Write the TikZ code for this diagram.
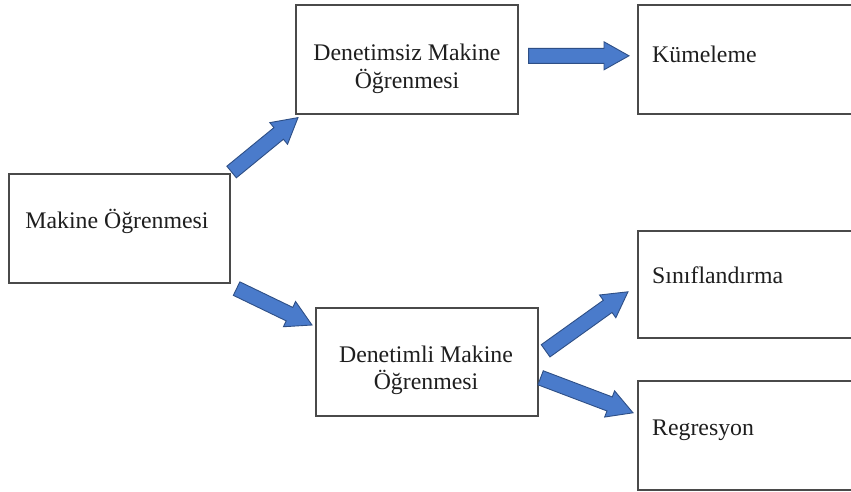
\documentclass[tikz,border=0pt]{standalone}
\usepackage{fontspec}
\setmainfont{Liberation Serif}
\usetikzlibrary{calc}

\definecolor{boxline}{HTML}{4A4A4A}
\definecolor{arrowfill}{HTML}{4A7BCB}
\definecolor{arrowedge}{HTML}{2E4F86}
\definecolor{textcol}{HTML}{1E1E1E}

\tikzset{
  box/.style={draw=boxline, line width=1.6pt, fill=white, inner sep=0pt},
  lbl/.style={anchor=base, inner sep=0pt, text=textcol,
    font=\fontsize{23.8}{28}\selectfont},
  lbll/.style={lbl, anchor=base west},
  blockarrow/.style={draw=arrowedge, fill=arrowfill, line width=0.9pt, line join=miter}
}

% block arrow from tail (#2) to tip (#3); #1 names its head base
\newcommand\blockarr[3]{%
  \coordinate (#1) at ($(#3)!25pt!(#2)$);
  \draw[blockarrow]
    ($(#2)!7.5pt!90:(#3)$) -- ($(#1)!7.5pt!90:(#3)$) -- ($(#1)!14pt!90:(#3)$)
    -- (#3) -- ($(#1)!14pt!-90:(#3)$) -- ($(#1)!7.5pt!-90:(#3)$)
    -- ($(#2)!7.5pt!-90:(#3)$) -- cycle;
}

\begin{document}
\begin{tikzpicture}[x=1pt, y=-1pt]
  \clip (0,0) rectangle (851,491);
  \fill[white] (0,0) rectangle (851,491);

  % boxes (corner to corner)
  \node[box, fit/.style={}, minimum width=221pt, minimum height=109pt, anchor=north west] (mo)  at (8,173) {};
  \node[box, minimum width=222pt, minimum height=109pt, anchor=north west] (den) at (295,4) {};
  \node[box, minimum width=222pt, minimum height=108pt, anchor=north west] (dm)  at (315,307) {};
  \node[box, minimum width=240pt, minimum height=109pt, anchor=north west] (kum) at (637,4) {};
  \node[box, minimum width=240pt, minimum height=107pt, anchor=north west] (sin) at (637,230) {};
  \node[box, minimum width=240pt, minimum height=109pt, anchor=north west] (reg) at (637,380) {};

  % labels
  \node[lbl] (moT)  at (117,228.5) {Makine Öğrenmesi};
  \node[lbl] (denT1) at (407,60) {Denetimsiz Makine};
  \node[lbl] (denT2) at (407,88) {Öğrenmesi};
  \node[lbl] (dmT1) at (426,362) {Denetimli Makine};
  \node[lbl] (dmT2) at (426,389) {Öğrenmesi};
  \node[lbll] (kumT) at (652,62) {Kümeleme};
  \node[lbll] (sinT) at (652,283) {Sınıflandırma};
  \node[lbll] (regT) at (652,435) {Regresyon};

  % arrow ends
  \coordinate (a1t) at ($(mo.north east)+(1,-1)$);
  \coordinate (a1p) at ($(den.south west)+(3,3)$);
  \coordinate (a2t) at ($(den.east)+(10,-3.5)$);
  \coordinate (a2p) at ($(kum.west)+(-8,-3.5)$);
  \coordinate (a3t) at ($(mo.south east)+(6,5)$);
  \coordinate (a3p) at ($(dm.north west)+(-3,18)$);
  \coordinate (a4t) at ($(dm.east)+(7,-11)$);
  \coordinate (a4p) at ($(sin.west)+(-9,7.5)$);
  \coordinate (a5t) at ($(dm.east)+(2,16)$);
  \coordinate (a5p) at ($(reg.west)+(-4,-22.5)$);

  \blockarr{a1h}{a1t}{a1p}
  \blockarr{a2h}{a2t}{a2p}
  \blockarr{a3h}{a3t}{a3p}
  \blockarr{a4h}{a4t}{a4p}
  \blockarr{a5h}{a5t}{a5p}
\end{tikzpicture}
\end{document}
